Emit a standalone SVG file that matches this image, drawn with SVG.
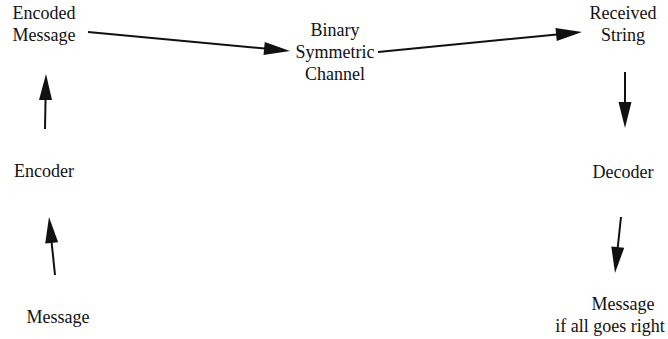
<svg xmlns="http://www.w3.org/2000/svg" width="668" height="339" viewBox="0 0 668 339">
<style>
text{font-family:"Liberation Serif","DejaVu Serif","Noto Serif",serif;font-size:18px;fill:#111;text-anchor:middle}
.c line{stroke:#111;stroke-width:2;marker-end:url(#ah)}
</style>
<defs>
<marker id="ah" markerUnits="userSpaceOnUse" markerWidth="27" markerHeight="14" refX="6" refY="6.5" orient="auto" overflow="visible">
<path d="M0,0 L26,6.5 L0,13 Z" fill="#111"/>
</marker>
</defs>
<rect width="668" height="339" fill="#fff"/>
<g id="encoded"><text x="44" y="19">Encoded</text><text x="44" y="41">Message</text></g>
<g id="bsc"><text x="335" y="36">Binary</text><text x="335" y="58">Symmetric</text><text x="335" y="80">Channel</text></g>
<g id="received"><text x="623" y="19">Received</text><text x="623" y="41">String</text></g>
<g id="encoder"><text x="44" y="177">Encoder</text></g>
<g id="decoder"><text x="623" y="178">Decoder</text></g>
<g id="message"><text x="58" y="323">Message</text></g>
<g id="result"><text x="623" y="310">Message</text><text x="610" y="332">if all goes right</text></g>
<g class="c" id="connectors">
<line x1="88" y1="32" x2="270.1" y2="49.1"/>
<line x1="378" y1="52" x2="562.1" y2="33.95"/>
<line x1="45" y1="129" x2="45.64" y2="94"/>
<line x1="55" y1="275" x2="51.06" y2="236.9"/>
<line x1="625" y1="72" x2="625" y2="108"/>
<line x1="621" y1="217" x2="617.13" y2="253.1"/>
</g>
</svg>
